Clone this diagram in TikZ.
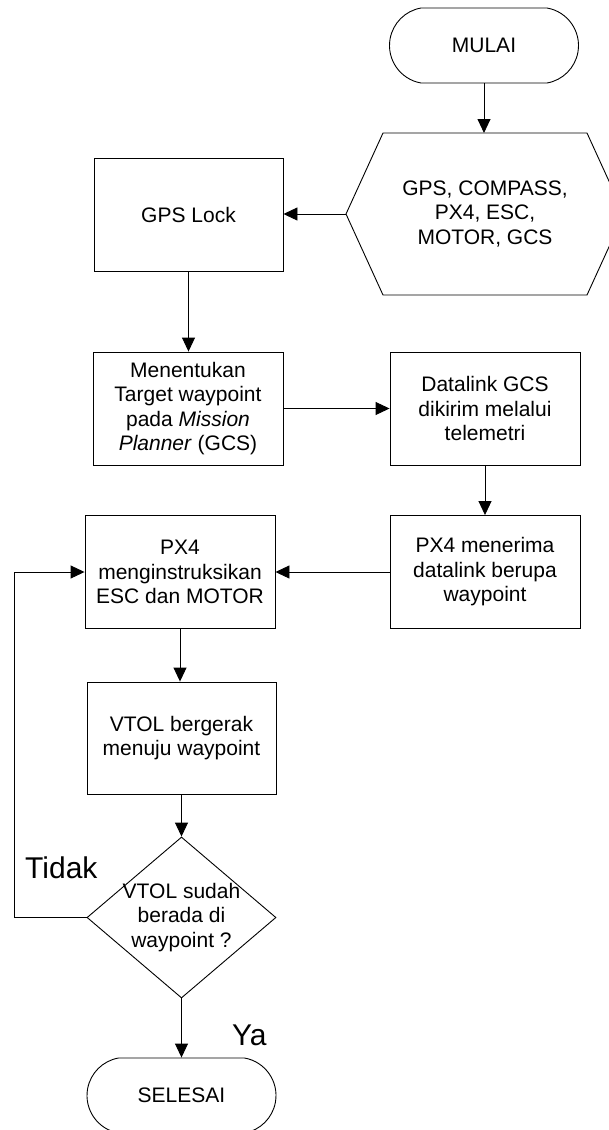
\documentclass[tikz,border=0pt]{standalone}
\usepackage{fontspec}
\setmainfont{Liberation Sans}
\usetikzlibrary{arrows.meta,shapes.misc,shapes.geometric}
\begin{document}
\begin{tikzpicture}[x=1pt,y=-1pt,
  lw/.style={line width=0.9pt},
  txt/.style={align=center, inner sep=0pt, font=\fontsize{21}{24.5}\selectfont},
  box/.style={txt, lw, draw, minimum width=190pt, minimum height=113pt},
  term/.style={txt, lw, draw, rounded rectangle, rounded rectangle arc length=160, minimum width=189pt, minimum height=75pt},
  conn/.style={lw, -{Triangle[length=14pt,width=13pt]}},
  lbl/.style={inner sep=0pt, anchor=base west, font=\fontsize{30}{36}\selectfont}
]
\useasboundingbox (0,0) rectangle (608,1130);

% start
\node[term] (mulai) at (484,45.5) {MULAI};

% hexagon (preparation)
\node[txt] (hex) at (485,214) {GPS, COMPASS,\\PX4, ESC,\\MOTOR, GCS};
\coordinate (hexL) at (346,214);
\coordinate (hexT) at (484,133);
\draw[lw] (hexL) -- (383,133) -- (587,133) -- (624,214) -- (587,295) -- (383,295) -- cycle;

% boxes
\node[box, minimum width=189pt] (gps) at (188.5,214.5) {GPS Lock};
\node[box] (plan) at (188,408.5) {Menentukan\\Target waypoint\\pada \textit{Mission}\\\textit{Planner} (GCS)};
\node[box] (dlink) at (485,408.5) {Datalink GCS\\dikirim melalui\\telemetri};
\node[box] (terima) at (485,572) {PX4 menerima\\datalink berupa\\waypoint};
\node[box] (instr) at (180,572) {PX4\\menginstruksikan\\ESC dan MOTOR};
\node[box, minimum width=189pt, minimum height=112pt] (vtol) at (181.5,738) {VTOL bergerak\\menuju waypoint};

% decision
\node[lw, draw, diamond, minimum width=189pt, minimum height=161pt, inner sep=0pt] (dec) at (181.5,917.5) {};
\node[txt] (dectext) at (dec.center) {VTOL sudah\\berada di\\waypoint ?};

% end
\node[term] (selesai) at (181.5,1095.5) {SELESAI};

% connectors
\draw[conn] (mulai.south) -- (hexT);
\draw[conn] (hexL) -- (hexL -| gps.east);
\draw[conn] (gps.south) -- (gps.south |- plan.north);
\draw[conn] (plan.east) -- (dlink.west);
\draw[conn] (dlink.south) -- (terima.north);
\draw[conn] (terima.west) -- (instr.east);
\draw[conn] (instr.south) -- (instr.south |- vtol.north);
\draw[conn] (vtol.south) -- (dec.north);
\draw[conn] (dec.south) -- (selesai.north);
\coordinate (loop) at (14,917.5);
\draw[conn] (dec.west) -- (loop) |- (instr.west);

% labels
\node[lbl] (tidak) at (25,878) {Tidak};
\node[lbl] (ya) at (232,1045) {Ya};
\end{tikzpicture}
\end{document}
